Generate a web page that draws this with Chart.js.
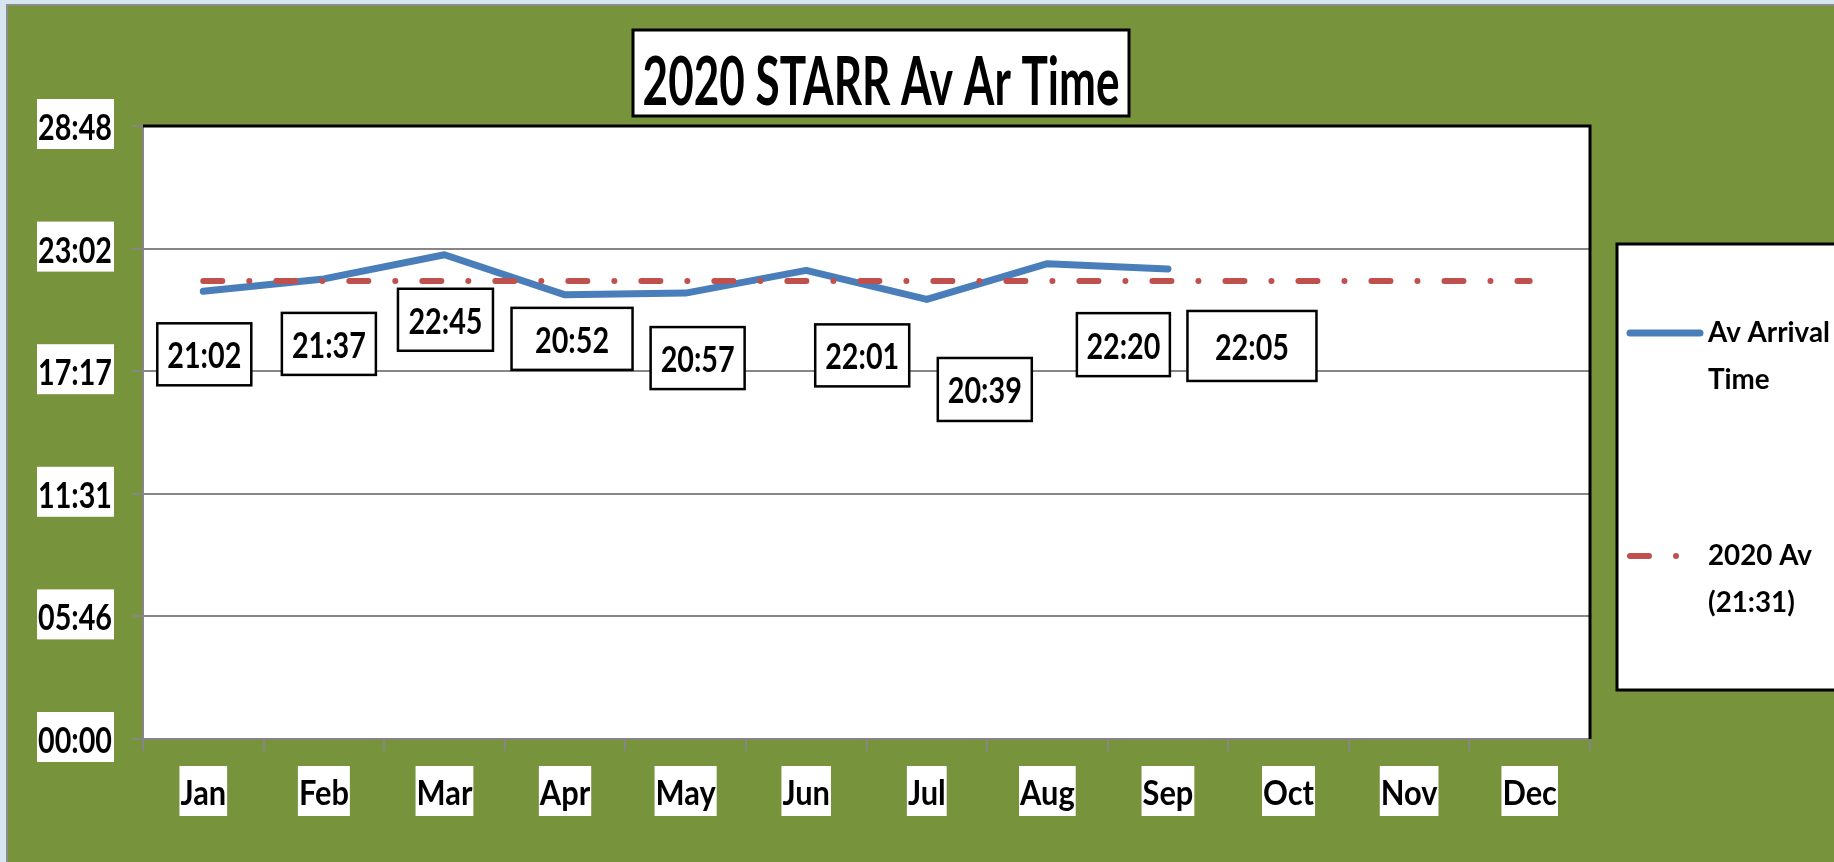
<!DOCTYPE html>
<html>
<head>
<meta charset="utf-8">
<title>2020 STARR Av Ar Time</title>
<script src="https://cdn.jsdelivr.net/npm/chart.js@4"></script>
<style>
  html, body { margin: 0; padding: 0; background: #d6e6f1; overflow: hidden; }
  canvas { display: block; }
</style>
</head>
<body>
<canvas id="myChart" width="1834" height="862"></canvas>
<script>
// data
const months = ['Jan', 'Feb', 'Mar', 'Apr', 'May', 'Jun', 'Jul', 'Aug', 'Sep', 'Oct', 'Nov', 'Dec'];
const arrivalTimes = ['21:02', '21:37', '22:45', '20:52', '20:57', '22:01', '20:39', '22:20', '22:05', null, null, null];
const yearAverage = '21:31';
const yTickLabels = ['00:00', '05:46', '11:31', '17:17', '23:02', '28:48'];
const titleText = '2020 STARR Av Ar Time';

// value boxes sit under the line, nudged by hand like on the slide (px from the point)
const labelNudges = [[1, 63], [5, 65], [1, 65], [7, 44], [12, 65], [56, 85], [58, 90], [76, 81], [84, 77]];
const labelBoxSizes = [[94, 62], [94, 62], [95, 62], [121, 62], [94, 62], [94, 62], [94, 63], [93, 63], [129, 70]];

const FONT = 'Lato, "Open Sans", sans-serif';

// the slide text is tall and narrow, so every text gets fitted to a width and a height
const textStyles = {
    tick: { ref: '28:48', width: 74, height: 27 },
    month: { ref: 'Feb', width: 50, height: 25 },
    legend: { ref: 'Av Arrival', width: 122, height: 22 },
    title: { ref: titleText, width: 477, height: 50 }
};

function fitStyle(ctx, st) {
    if (st.size) return st;
    ctx.font = 'bold 100px ' + FONT;
    st.size = 100 * st.width / ctx.measureText(st.ref).width;
    ctx.font = 'bold ' + st.size + 'px ' + FONT;
    st.sy = st.height / ctx.measureText(st.ref).actualBoundingBoxAscent;
    return st;
}

function textWidth(ctx, text, st) {
    fitStyle(ctx, st);
    ctx.font = 'bold ' + st.size + 'px ' + FONT;
    return ctx.measureText(text).width;
}

function drawText(ctx, text, x, baseline, st, align) {
    fitStyle(ctx, st);
    ctx.save();
    ctx.font = 'bold ' + st.size + 'px ' + FONT;
    ctx.fillStyle = '#000';
    ctx.textAlign = align || 'center';
    ctx.textBaseline = 'alphabetic';
    ctx.translate(x, baseline);
    ctx.scale(1, st.sy);
    ctx.fillText(text, 0, 0);
    ctx.restore();
}

function toMinutes(t) {
    if (t === null) return null;
    const [h, m] = t.split(':').map(Number);
    return h * 60 + m;
}

const yMax = toMinutes(yTickLabels[yTickLabels.length - 1]);

// slide background, white plot area
const slideBackground = {
    id: 'slideBackground',
    beforeDraw(chart) {
        const { ctx, width, height, chartArea: a } = chart;
        ctx.save();
        ctx.fillStyle = '#d6e6f1';
        ctx.fillRect(0, 0, width, height);
        ctx.fillStyle = '#77933c';
        ctx.fillRect(7, 5, width - 7, height - 5);
        ctx.strokeStyle = '#8c8c8c';
        ctx.lineWidth = 2;
        ctx.beginPath();
        ctx.moveTo(7, height);
        ctx.lineTo(7, 5);
        ctx.lineTo(width, 5);
        ctx.stroke();
        ctx.fillStyle = '#ffffff';
        ctx.fillRect(a.left, a.top, a.right - a.left, a.bottom - a.top);
        ctx.restore();
    }
};

// tick labels, title box, black frame, value boxes and the legend
const slideExtras = {
    id: 'slideExtras',
    afterDraw(chart) {
        const { ctx, chartArea: a } = chart;
        const xs = chart.scales.x;
        const ys = chart.scales.y;
        ctx.save();

        // black top/right edge of the plot
        ctx.strokeStyle = '#000';
        ctx.lineWidth = 3;
        ctx.beginPath();
        ctx.moveTo(a.left, a.top);
        ctx.lineTo(a.right, a.top);
        ctx.lineTo(a.right, a.bottom);
        ctx.stroke();

        // y tick labels on white patches
        ys.ticks.forEach((t, i) => {
            const y = ys.getPixelForTick(i);
            const label = yTickLabels[i];
            const w = textWidth(ctx, label, textStyles.tick);
            const right = ys.right - 30;
            ctx.fillStyle = '#fff';
            ctx.fillRect(right - w - 2, y - 27, w + 3, 50);
            drawText(ctx, label, right - 1, y + 14, textStyles.tick, 'right');
        });

        // month labels on white patches
        months.forEach((m, i) => {
            const x = xs.getPixelForValue(i);
            const w = textWidth(ctx, m, textStyles.month);
            ctx.fillStyle = '#fff';
            ctx.fillRect(x - w / 2 - 1, xs.top + 27, w + 2, 50);
            drawText(ctx, m, x, xs.top + 66, textStyles.month, 'center');
        });

        // title
        ctx.fillStyle = '#fff';
        ctx.fillRect(633, 30, 496, 86);
        ctx.strokeStyle = '#000';
        ctx.lineWidth = 3;
        ctx.strokeRect(633, 30, 496, 86);
        drawText(ctx, titleText, 881, 105, textStyles.title, 'center');

        // value boxes
        const meta = chart.getDatasetMeta(0);
        meta.data.forEach((pt, i) => {
            if (arrivalTimes[i] === null) return;
            const cx = pt.x + labelNudges[i][0];
            const cy = pt.y + labelNudges[i][1];
            const [bw, bh] = labelBoxSizes[i];
            ctx.fillStyle = '#fff';
            ctx.fillRect(cx - bw / 2, cy - bh / 2, bw, bh);
            ctx.strokeStyle = '#000';
            ctx.lineWidth = 2.5;
            ctx.strokeRect(cx - bw / 2, cy - bh / 2, bw, bh);
            drawText(ctx, arrivalTimes[i], cx, cy + 14, textStyles.tick, 'center');
        });

        // legend
        ctx.fillStyle = '#fff';
        ctx.fillRect(1617, 244, 240, 446);
        ctx.strokeStyle = '#000';
        ctx.lineWidth = 3;
        ctx.strokeRect(1617, 244, 240, 446);
        const rows = [333, 556];
        chart.data.datasets.forEach((ds, i) => {
            const y = rows[i];
            ctx.strokeStyle = ds.borderColor;
            ctx.lineWidth = ds.borderWidth;
            ctx.lineCap = 'round';
            ctx.setLineDash(ds.borderDash || []);
            ctx.beginPath();
            ctx.moveTo(1630, y);
            ctx.lineTo(ds.borderDash ? 1677 : 1700, y);
            ctx.stroke();
            ctx.setLineDash([]);
            // wrap the label like the slide does
            const words = ds.label.split(' ');
            const lines = [];
            let line = '';
            words.forEach(wd => {
                const test = line ? line + ' ' + wd : wd;
                if (textWidth(ctx, test, textStyles.legend) > 130 && line) {
                    lines.push(line);
                    line = wd;
                } else {
                    line = test;
                }
            });
            lines.push(line);
            lines.forEach((l, k) => drawText(ctx, l, 1708, y + 9 + k * 47, textStyles.legend, 'left'));
        });

        ctx.restore();
    }
};

const ctx = document.getElementById('myChart').getContext('2d');

const config = {
    type: 'line',
    data: {
        labels: months,
        datasets: [{
            label: 'Av Arrival Time',
            data: arrivalTimes.map(toMinutes),
            borderColor: '#4a7ebb',
            backgroundColor: '#4a7ebb',
            borderWidth: 7,
            borderCapStyle: 'round',
            borderJoinStyle: 'round',
            pointRadius: 0,
            tension: 0,
            order: 2
        }, {
            label: '2020 Av (' + yearAverage + ')',
            data: months.map(() => toMinutes(yearAverage)),
            borderColor: '#c0504d',
            backgroundColor: '#c0504d',
            borderWidth: 6,
            borderDash: [19, 27, 0.01, 27],
            borderCapStyle: 'round',
            pointRadius: 0,
            tension: 0,
            order: 1
        }]
    },
    options: {
        responsive: false,
        animation: false,
        devicePixelRatio: 1,
        events: [],
        layout: {
            padding: { left: 0, top: 126, right: 244, bottom: 0 }
        },
        plugins: {
            legend: { display: false },
            title: { display: false },
            tooltip: { enabled: false }
        },
        scales: {
            x: {
                offset: true,
                grid: {
                    offset: true,
                    drawOnChartArea: false,
                    drawTicks: true,
                    tickLength: 12,
                    color: '#868686',
                    lineWidth: 2
                },
                border: { color: '#868686', width: 2 },
                ticks: { display: false },
                afterFit(scale) { scale.height = 123; }
            },
            y: {
                min: 0,
                max: yMax,
                grid: {
                    color: '#868686',
                    lineWidth: 2,
                    tickLength: 10
                },
                border: { color: '#868686', width: 2 },
                ticks: {
                    display: false,
                    stepSize: yMax / (yTickLabels.length - 1)
                },
                afterFit(scale) { scale.width = 143; }
            }
        }
    },
    plugins: [slideBackground, slideExtras]
};

const myChart = new Chart(ctx, config);
</script>
</body>
</html>
